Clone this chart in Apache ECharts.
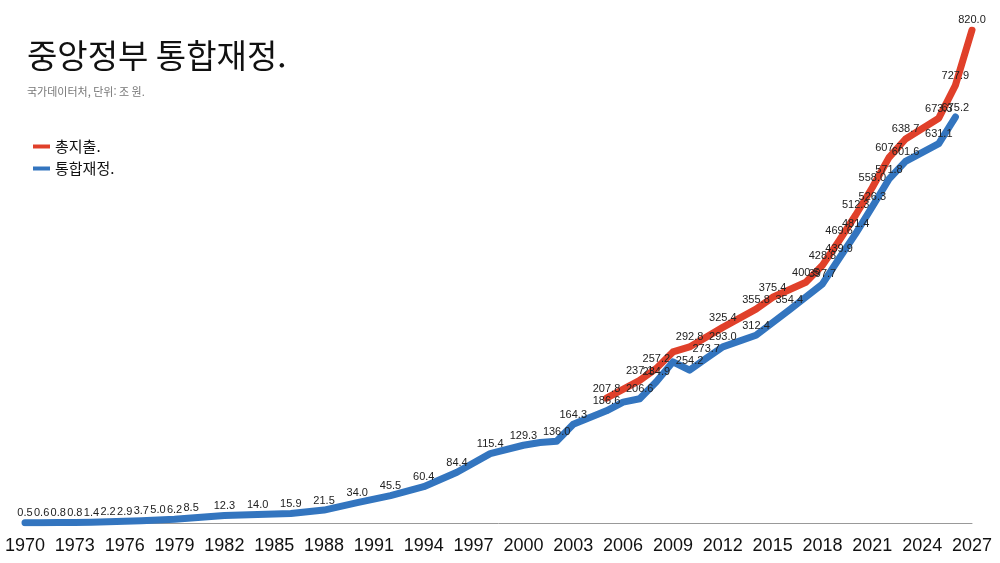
<!DOCTYPE html>
<html lang="ko">
<head>
<meta charset="utf-8" />
<title>중앙정부 통합재정</title>
<script src="https://cdn.jsdelivr.net/npm/echarts@6/dist/echarts.min.js"></script>
<style>
  html, body { margin: 0; padding: 0; background: #fff; }
  #chart { width: 1000px; height: 563px; }
</style>
</head>
<body>
<div id="chart"></div>
<script>
// 연도 (1970 ~ 2027)
const years = [];
for (let y = 1970; y <= 2027; y++) years.push(String(y));

// 총지출 (2005 ~ 2027), 값이 없는 해는 null
const totalSpend = {
  2005: 207.8, 2007: 237.1, 2008: 257.2, 2009: 284.5, 2010: 292.8,
  2012: 325.4, 2014: 355.8, 2015: 375.4, 2017: 400.5, 2018: 428.8,
  2019: 469.6, 2020: 512.3, 2021: 558.0, 2022: 607.7, 2023: 638.7,
  2025: 673.3, 2026: 727.9, 2027: 820.0
};

// 통합재정 (1970 ~ 2026)
const unified = {
  1970: 0.5, 1971: 0.6, 1972: 0.8, 1973: 0.8, 1974: 1.4, 1975: 2.2,
  1976: 2.9, 1977: 3.7, 1978: 5.0, 1979: 6.2, 1980: 8.5,
  1982: 12.3, 1984: 14.0, 1986: 15.9, 1988: 21.5, 1990: 34.0,
  1992: 45.5, 1994: 60.4, 1996: 84.4, 1998: 115.4, 2000: 129.3,
  2001: 134.0, 2002: 136.0, 2003: 164.3, 2005: 186.6, 2006: 201.0,
  2007: 206.6, 2008: 234.9, 2009: 268.0, 2010: 254.2, 2011: 273.7,
  2012: 293.0, 2014: 312.4, 2016: 354.4, 2018: 397.7, 2019: 439.9,
  2020: 481.4, 2021: 526.3, 2022: 571.8, 2023: 601.6, 2025: 631.1,
  2026: 675.2
};

// 선 위에 꺾임은 보이지만 숫자가 안 찍힌 해
const unlabeledSpend = [2009];
const unlabeledUnified = [2001, 2006, 2009];

function toData(values, unlabeled) {
  return years.map(function (y) {
    const v = values[y];
    if (v === undefined) return null;
    if (unlabeled.indexOf(Number(y)) >= 0) return { value: v, label: { show: false } };
    return v;
  });
}

const chart = echarts.init(document.getElementById('chart'));

const labelStyle = {
  show: true,
  position: 'top',
  distance: 4,
  fontSize: 11,
  color: '#222',
  fontFamily: 'Liberation Sans, Arial, sans-serif',
  formatter: function (p) { return Number(p.value).toFixed(1); }
};

chart.setOption({
  animation: false,
  title: {
    text: '중앙정부 통합재정.',
    subtext: '국가데이터처, 단위: 조 원.',
    left: 22,
    top: 34,
    itemGap: 14,
    textStyle: {
      fontFamily: 'Noto Sans CJK KR',
      fontSize: 33,
      fontWeight: 'normal',
      color: '#111'
    },
    subtextStyle: {
      fontFamily: 'Noto Sans CJK KR',
      fontSize: 11,
      color: '#777'
    }
  },
  legend: {
    orient: 'vertical',
    left: 28,
    top: 134,
    itemWidth: 17,
    itemHeight: 4,
    itemGap: 7,
    icon: 'rect',
    textStyle: {
      fontFamily: 'Noto Sans CJK KR',
      fontSize: 15,
      color: '#111'
    },
    data: ['총지출.', '통합재정.']
  },
  grid: {
    left: 25,
    right: 28,
    top: 30,
    bottom: 40
  },
  xAxis: {
    type: 'category',
    boundaryGap: false,
    data: years,
    axisLine: { lineStyle: { color: '#999', width: 1 } },
    axisTick: { show: false },
    axisLabel: {
      interval: 2,
      fontSize: 18,
      color: '#111',
      margin: 14,
      fontFamily: 'Liberation Sans, Arial, sans-serif'
    }
  },
  yAxis: {
    type: 'value',
    min: 0,
    max: 820,
    show: false,
    splitLine: { show: false }
  },
  series: [
    {
      name: '총지출.',
      type: 'line',
      data: toData(totalSpend, unlabeledSpend),
      connectNulls: true,
      showSymbol: true,
      showAllSymbol: true,
      symbol: 'circle',
      symbolSize: 0.1,
      color: '#E0402A',
      lineStyle: { width: 7, color: '#E0402A', cap: 'round', join: 'round' },
      label: labelStyle,
      z: 2
    },
    {
      name: '통합재정.',
      type: 'line',
      data: toData(unified, unlabeledUnified),
      connectNulls: true,
      showSymbol: true,
      showAllSymbol: true,
      symbol: 'circle',
      symbolSize: 0.1,
      color: '#3375BF',
      lineStyle: { width: 7, color: '#3375BF', cap: 'round', join: 'round' },
      label: labelStyle,
      z: 3
    }
  ]
});

window.onresize = function () {
  chart.resize();
};
</script>
</body>
</html>
